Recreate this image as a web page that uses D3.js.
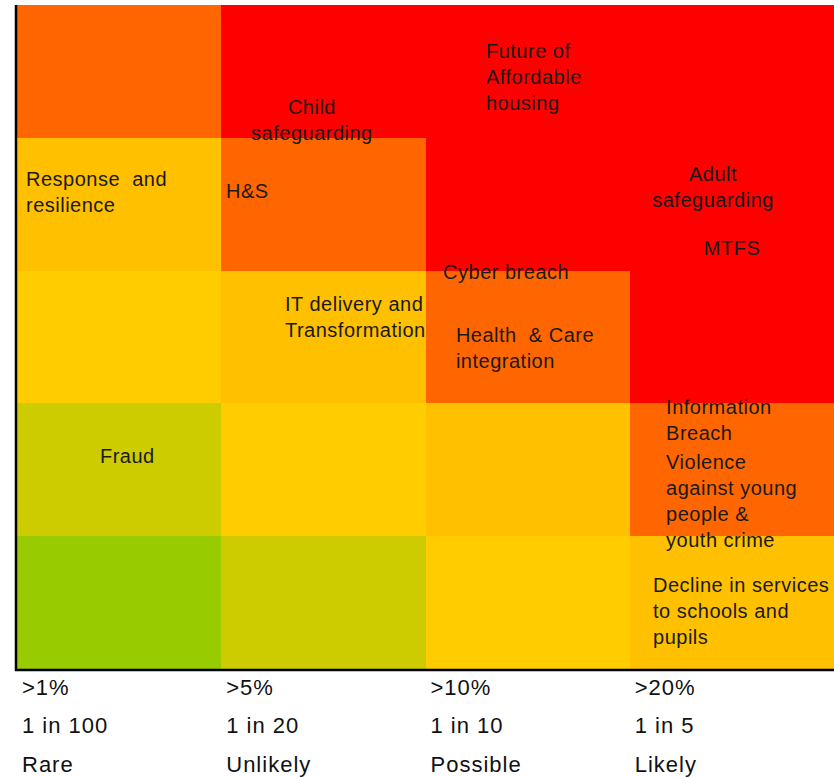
<!DOCTYPE html>
<html>
<head>
<meta charset="utf-8">
<script src="https://cdn.jsdelivr.net/npm/d3@7"></script>
<style>
  html, body { margin: 0; padding: 0; background: #fff; }
  svg { display: block; font-family: "Liberation Sans", Arial, sans-serif; }
</style>
</head>
<body>
<svg id="chart" width="834" height="777"></svg>
<script>
// Likelihood bands (columns, left to right)
const likelihoodPct = [">1%", ">5%", ">10%", ">20%"];
const likelihoodOdds = ["1 in 100", "1 in 20", "1 in 10", "1 in 5"];
const likelihoodName = ["Rare", "Unlikely", "Possible", "Likely"];

// Impact levels, top to bottom (5 = highest)
const impactLevels = [5, 4, 3, 2, 1];

// Rating of each cell: rows follow impactLevels, columns follow likelihood
const cellRating = [
  [5, 6, 6, 6],
  [4, 5, 6, 6],
  [3, 4, 5, 6],
  [2, 3, 4, 5],
  [1, 2, 3, 4]
];
const ratingColours = ["#99CC00", "#CCCC00", "#FFCC00", "#FFC000", "#FF6600", "#FF0000"];

// Risks with their likelihood / impact scores on the matrix
const riskNames = [
  ["Future of", "Affordable", "housing"],
  ["Child", "safeguarding"],
  ["Response\u00a0 and", "resilience"],
  ["H&S"],
  ["Adult", "safeguarding"],
  ["MTFS"],
  ["Cyber breach"],
  ["IT delivery and", "Transformation"],
  ["Health\u00a0 & Care", "integration"],
  ["Information", "Breach"],
  ["Violence", "against young", "people &", "youth crime"],
  ["Fraud"],
  ["Decline in services", "to schools and", "pupils"]
];
const riskLikelihood = [2.296, 1.444, 0.044, 1.023, 3.408, 3.501, 2.086, 1.312, 2.149, 3.178, 3.178, 0.406, 3.114];
const riskImpact     = [4.654, 4.232, 3.690, 3.600, 3.727, 3.170, 2.990, 2.748, 2.515, 1.973, 1.559, 1.604, 0.633];
const riskCentred    = [false, true, false, false, true, true, false, false, false, false, false, false, false];

const svg = d3.select("#chart");
const plotLeft = 17, plotRight = 834, plotTop = 5, plotBottom = 669;

const x = d3.scaleLinear().domain([0, likelihoodName.length]).range([plotLeft, plotRight]);
const y = d3.scaleLinear().domain([0, impactLevels.length]).range([plotBottom, plotTop]);

// Matrix cells
const cells = [];
impactLevels.forEach((imp, r) => {
  likelihoodName.forEach((_, c) => {
    cells.push({ c, imp, rating: cellRating[r][c] });
  });
});

svg.append("g").selectAll("rect")
  .data(cells)
  .join("rect")
  .attr("x", d => x(d.c))
  .attr("y", d => y(d.imp))
  .attr("width", d => x(d.c + 1) - x(d.c))
  .attr("height", d => y(d.imp - 1) - y(d.imp))
  .attr("fill", d => ratingColours[d.rating - 1])
  .attr("shape-rendering", "crispEdges");

// Axis lines (left and bottom)
svg.append("line")
  .attr("x1", x(0) - 1).attr("x2", x(0) - 1)
  .attr("y1", y(impactLevels.length)).attr("y2", y(0) + 2)
  .attr("stroke", "#000").attr("stroke-width", 2.5);
svg.append("line")
  .attr("x1", x(0) - 2).attr("x2", plotRight)
  .attr("y1", y(0) + 1).attr("y2", y(0) + 1)
  .attr("stroke", "#000").attr("stroke-width", 2.5);

// Risk labels
const lineGap = 26;
const riskG = svg.append("g")
  .attr("font-size", 20)
  .attr("letter-spacing", 0.5)
  .attr("fill", "#1a1a1a");
riskNames.forEach((lines, i) => {
  const t = riskG.append("text")
    .attr("x", x(riskLikelihood[i]))
    .attr("y", y(riskImpact[i]))
    .attr("text-anchor", riskCentred[i] ? "middle" : "start");
  lines.forEach((ln, j) => {
    t.append("tspan")
      .attr("x", x(riskLikelihood[i]))
      .attr("dy", j === 0 ? "0.35em" : lineGap)
      .text(ln);
  });
});

// Likelihood axis labels (three rows under each column)
const tickRows = [likelihoodPct, likelihoodOdds, likelihoodName];
const tickY = [687, 725, 764];
const tickG = svg.append("g")
  .attr("font-size", 22)
  .attr("letter-spacing", 1)
  .attr("fill", "#111");
tickRows.forEach((row, k) => {
  tickG.selectAll(null)
    .data(row)
    .join("text")
    .attr("x", (d, i) => x(i) + 5)
    .attr("y", tickY[k])
    .attr("dy", "0.35em")
    .text(d => d);
});
</script>
</body>
</html>
